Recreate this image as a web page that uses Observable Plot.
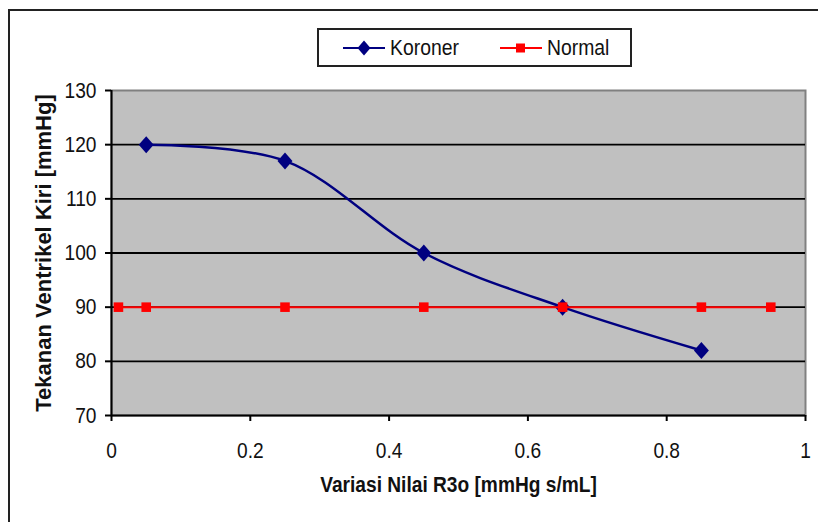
<!DOCTYPE html>
<html>
<head>
<meta charset="utf-8">
<script src="https://cdn.jsdelivr.net/npm/d3@7"></script>
<script src="https://cdn.jsdelivr.net/npm/@observablehq/plot@0.6"></script>
<style>
  html, body { margin: 0; padding: 0; background: #fff; }
  #wrap { position: relative; width: 818px; height: 522px; overflow: hidden; font-family: "Liberation Sans", Arial, sans-serif; }
  #wrap > svg { position: absolute; left: 0; top: 0; }
  .edge { position: absolute; background: #222; }
  #legend { position: absolute; left: 317px; top: 28px; width: 311px; height: 35px; border: 2px solid #222; background: #fff; }
  .item { position: absolute; top: 0; height: 35px; display: flex; align-items: center; font-size: 22px; color: #111; }
  .item span { display: inline-block; transform: scaleX(0.88); transform-origin: left center; }
  .item svg { margin-right: 4px; }
</style>
</head>
<body>
<div id="wrap">
  <div class="edge" style="left:8px;top:9px;width:2px;height:513px"></div>
  <div class="edge" style="left:8px;top:9px;width:810px;height:2px"></div>
  <div id="legend">
    <div class="item" style="left:23px"><svg width="44" height="18"><line x1="1" y1="9" x2="43" y2="9" stroke="#000080" stroke-width="2"/><path d="M22,1.5 L28.5,9 L22,16.5 L15.5,9 Z" fill="#000080"/></svg><span>Koroner</span></div>
    <div class="item" style="left:180px"><svg width="44" height="18"><line x1="1" y1="9" x2="43" y2="9" stroke="#ff0000" stroke-width="2"/><rect x="17" y="4.5" width="9" height="9" fill="#ff0000"/></svg><span>Normal</span></div>
  </div>
</div>
<script>
// Axis ticks
const xTicks = [0, 0.2, 0.4, 0.6, 0.8, 1];
const yTicks = [70, 80, 90, 100, 110, 120, 130];
const gridValues = [80, 90, 100, 110, 120];

// Koroner series
const koronerX = [0.05, 0.25, 0.45, 0.65, 0.85];
const koronerY = [120, 117, 100, 90, 82];

// Normal series
const normalX = [0.01, 0.05, 0.25, 0.45, 0.65, 0.85, 0.95];
const normalY = [90, 90, 90, 90, 90, 90, 90];

const koroner = koronerX.map((x, i) => ({x, y: koronerY[i]}));
const normal = normalX.map((x, i) => ({x, y: normalY[i]}));

// Slightly tall diamond marker
const tallDiamond = {
  draw(ctx, size) {
    const r = Math.sqrt(size / Math.PI);
    const w = r * 0.88;
    ctx.moveTo(0, -r);
    ctx.lineTo(w, 0);
    ctx.lineTo(0, r);
    ctx.lineTo(-w, 0);
    ctx.closePath();
  }
};

const chart = Plot.plot({
  width: 818,
  height: 522,
  marginLeft: 111,
  marginRight: 13,
  marginTop: 90,
  marginBottom: 107,
  style: {background: "transparent", fontFamily: "Liberation Sans, Arial, sans-serif", fontSize: "22px", color: "#111"},
  x: {domain: [0, 1], label: null},
  y: {domain: [70, 130], label: null},
  marks: [
    Plot.frame({fill: "#c0c0c0", stroke: "#808080", strokeWidth: 2}),
    Plot.ruleY(gridValues, {stroke: "#000", strokeWidth: 1.8}),
    Plot.ruleY([70], {stroke: "#000", strokeWidth: 2}),
    Plot.ruleX([0], {stroke: "#000", strokeWidth: 2}),
    Plot.axisX({ticks: xTicks, tickFormat: d => String(d), tickSize: 6, tickPadding: 21, stroke: "#000", strokeWidth: 2, label: null, fontSize: 22}),
    Plot.axisY({ticks: yTicks, tickFormat: d => String(d), tickSize: 6, tickPadding: 9, stroke: "#000", strokeWidth: 2, label: null, fontSize: 22}),
    Plot.line(koroner, {x: "x", y: "y", stroke: "#000080", strokeWidth: 2.5, curve: "catmull-rom"}),
    Plot.dot(koroner, {x: "x", y: "y", symbol: tallDiamond, r: 8.5, fill: "#000080"}),
    Plot.line(normal, {x: "x", y: "y", stroke: "#ff0000", strokeWidth: 2}),
    Plot.dot(normal, {x: "x", y: "y", symbol: "square", r: 5.4, fill: "#ff0000"}),
    Plot.text(["Tekanan Ventrikel Kiri [mmHg]"], {frameAnchor: "left", dx: -68, rotate: -90, textAnchor: "middle", fontWeight: "bold", fontSize: 22, fill: "#111"}),
    Plot.text(["Variasi Nilai R3o [mmHg s/mL]"], {frameAnchor: "bottom", dy: 76, fontWeight: "bold", fontSize: 22, fill: "#111"})
  ]
});

document.getElementById("wrap").prepend(chart);

// Condense the horizontal labels for a narrow typeface look
d3.select(chart).selectAll("text").each(function () {
  const t = this.getAttribute("transform") || "";
  if (t.includes("rotate")) return;
  const spans = this.querySelectorAll("tspan");
  const targets = spans.length ? Array.from(spans) : [this];
  for (const el of targets) {
    const w = el.getComputedTextLength();
    if (w > 0) {
      el.setAttribute("textLength", (w * 0.87).toFixed(2));
      el.setAttribute("lengthAdjust", "spacingAndGlyphs");
    }
  }
});
</script>
</body>
</html>
